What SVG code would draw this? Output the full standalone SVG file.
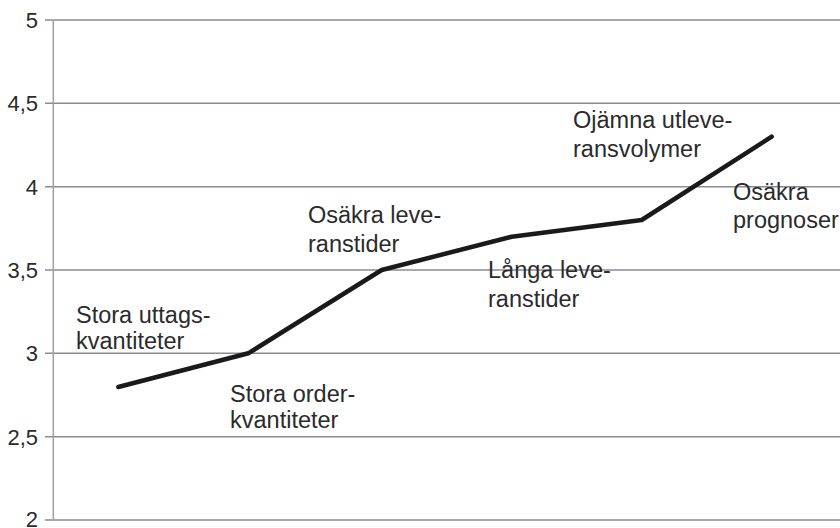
<svg xmlns="http://www.w3.org/2000/svg" width="840" height="528" viewBox="0 0 840 528">
<style>
.grid{stroke:#8a8a94;stroke-width:1.5;fill:none}
.axis{stroke:#a0a0a4;stroke-width:1.5;fill:none}
.tl{font-family:"Liberation Sans",Arial,sans-serif;font-size:22px;fill:#2b2b2b;text-anchor:end}
.lb{font-family:"Liberation Sans",Arial,sans-serif;font-size:23.5px;fill:#2b2b2b}
.series{stroke:#1a1a1a;stroke-width:4.5;fill:none;stroke-linejoin:round;stroke-linecap:round}
</style>
<rect width="840" height="528" fill="#ffffff"/>
<g id="grid">
<line class="grid" x1="45" y1="20" x2="840" y2="20"/>
<line class="grid" x1="45" y1="103.3" x2="840" y2="103.3"/>
<line class="grid" x1="45" y1="186.7" x2="840" y2="186.7"/>
<line class="grid" x1="45" y1="270" x2="840" y2="270"/>
<line class="grid" x1="45" y1="353.3" x2="840" y2="353.3"/>
<line class="grid" x1="45" y1="436.7" x2="840" y2="436.7"/>
<line class="grid" x1="45" y1="520" x2="840" y2="520"/>
<line class="axis" x1="53.3" y1="20" x2="53.3" y2="520"/>
</g>
<g id="yaxis">
<text class="tl" x="38" y="27.5">5</text>
<text class="tl" x="38" y="111">4,5</text>
<text class="tl" x="38" y="194.5">4</text>
<text class="tl" x="38" y="278">3,5</text>
<text class="tl" x="38" y="361">3</text>
<text class="tl" x="38" y="444.5">2,5</text>
<text class="tl" x="38" y="527">2</text>
</g>
<g id="connectors">
<polyline class="series" points="118.3,387 248.3,353.3 381.7,270 511.7,236.7 641.7,220 771.7,136.7"/>
</g>
<g id="n1"><text class="lb" x="76" y="323">Stora uttags-</text><text class="lb" x="76" y="349">kvantiteter</text></g>
<g id="n2"><text class="lb" x="230" y="401.5">Stora order-</text><text class="lb" x="230" y="428">kvantiteter</text></g>
<g id="n3"><text class="lb" x="308" y="223">Osäkra leve-</text><text class="lb" x="308" y="251.5">ranstider</text></g>
<g id="n4"><text class="lb" x="488" y="278">Långa leve-</text><text class="lb" x="488" y="306.5">ranstider</text></g>
<g id="n5"><text class="lb" x="573" y="128">Ojämna utleve-</text><text class="lb" x="573" y="157">ransvolymer</text></g>
<g id="n6"><text class="lb" x="733" y="200">Osäkra</text><text class="lb" x="733" y="228">prognoser</text></g>
</svg>
